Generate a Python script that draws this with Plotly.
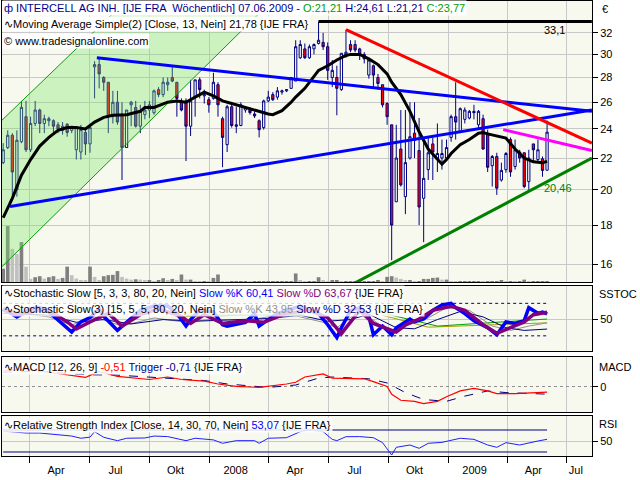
import math
import datetime as dt
import plotly.graph_objects as go

# ---------------- data ----------------
start = dt.datetime(2007, 2, 19)

opens = [21.7, 22.7, 23.55, 20.0, 23.1, 24.9, 22.55, 24.4, 25.4, 24.4,
         24.6, 24.6, 24.3, 23.9, 24.35, 23.9, 22.55, 22.4, 23.75, 22.95,
         28.9, 29.1, 28.0, 27.6, 24.9, 26.0, 25.1, 22.7, 25.8, 25.6,
         24.2, 25.05, 25.4, 25.2, 27.0, 26.6, 27.4, 28.0, 27.6, 26.0,
         26.1, 24.2, 26.4, 27.8, 26.5, 26.2, 26.3, 27.4, 24.75, 22.9,
         25.65, 24.3, 24.25, 25.4, 25.4, 25.1, 24.6, 24.1, 26.1, 26.6,
         26.4, 26.8, 26.9, 27.1, 27.7, 29.7, 30.5, 29.7, 30.5, 31.0,
         31.1, 30.7, 28.0, 28.0, 27.0, 29.9, 30.9, 30.9, 30.5, 30.0,
         28.2, 29.0, 28.0, 27.4, 25.9, 24.3, 19.3, 22.6, 19.6, 22.0,
         23.7, 22.5, 19.5, 21.25, 22.95, 21.9, 22.0, 22.0, 23.4, 24.9,
         23.8, 24.7, 24.8, 25.3, 24.3, 24.75, 23.7, 21.5, 22.1, 20.6,
         21.25, 23.25, 21.45, 22.4, 22.35, 20.5, 22.95, 21.9, 21.95, 21.21]
highs = [23.0, 23.9, 23.7, 23.9, 26.1, 26.1, 24.9, 26.1, 25.5, 25.05,
         24.9, 24.7, 24.5, 24.5, 24.4, 24.2, 24.1, 24.3, 23.95, 24.3,
         29.4, 29.7, 28.1, 27.6, 26.9, 26.9, 26.0, 25.4, 26.1, 26.1,
         25.8, 26.1, 26.1, 27.0, 27.2, 28.0, 28.0, 28.9, 27.6, 26.3,
         26.3, 27.8, 27.8, 28.0, 27.0, 26.4, 28.4, 27.6, 24.9, 25.8,
         25.8, 25.65, 26.0, 25.65, 25.6, 25.3, 24.7, 26.2, 26.9, 26.8,
         27.2, 27.0, 27.0, 28.0, 31.3, 31.3, 31.0, 30.9, 31.0, 33.1,
         32.0, 31.1, 29.5, 29.0, 30.1, 32.3, 31.3, 31.3, 30.6, 30.2,
         29.6, 29.1, 28.3, 27.4, 26.0, 24.3, 24.3, 25.4, 25.4, 26.0,
         26.0, 24.8, 23.4, 23.45, 23.4, 24.4, 23.25, 23.25, 25.05, 27.6,
         25.6, 25.6, 25.4, 25.8, 25.4, 25.05, 23.95, 22.2, 22.35, 21.7,
         22.4, 23.4, 23.25, 22.55, 22.35, 22.55, 22.95, 23.25, 22.1, 24.61]
lows = [21.6, 22.6, 19.7, 19.6, 23.0, 22.4, 22.4, 24.2, 23.7, 23.7,
        24.2, 23.6, 23.7, 23.6, 23.45, 23.7, 21.9, 21.9, 22.2, 22.35,
        26.3, 27.1, 26.9, 23.7, 24.4, 24.3, 20.6, 22.7, 24.2, 24.1,
        23.7, 24.7, 24.8, 25.05, 26.4, 26.4, 26.9, 27.6, 24.9, 25.3,
        21.8, 23.5, 24.9, 26.3, 25.9, 25.2, 26.2, 24.9, 21.4, 22.4,
        24.1, 23.7, 24.2, 25.2, 25.05, 24.8, 23.4, 23.95, 26.0, 26.1,
        26.2, 26.6, 26.8, 27.1, 27.7, 29.6, 29.6, 29.6, 30.0, 30.9,
        30.4, 27.8, 27.2, 25.0, 26.9, 29.7, 30.2, 30.2, 29.5, 29.2,
        27.9, 27.2, 27.0, 25.6, 24.3, 16.2, 19.3, 20.2, 18.6, 21.9,
        22.0, 18.0, 17.1, 20.6, 20.6, 21.1, 21.25, 21.9, 23.1, 23.25,
        23.7, 24.4, 24.7, 24.7, 23.95, 22.55, 21.1, 20.2, 19.7, 20.5,
        21.05, 20.8, 21.25, 21.7, 20.1, 20.0, 21.8, 21.7, 20.8, 21.21]
closes = [22.55, 23.55, 21.1, 23.2, 25.6, 22.55, 24.4, 25.4, 24.4, 24.75,
          24.75, 24.2, 24.0, 24.2, 23.75, 24.2, 24.1, 23.95, 22.95, 24.1,
          29.1, 28.3, 27.6, 24.9, 26.0, 24.5, 22.7, 25.4, 26.0, 24.2,
          25.3, 25.4, 25.8, 26.9, 26.6, 27.6, 27.6, 27.7, 26.3, 25.4,
          24.2, 26.1, 27.8, 27.0, 26.6, 25.8, 27.6, 25.8, 23.4, 25.65,
          24.25, 24.2, 25.8, 25.6, 25.2, 24.95, 23.95, 26.1, 26.4, 26.2,
          26.9, 26.9, 27.0, 28.0, 30.7, 30.9, 29.7, 30.7, 30.9, 31.3,
          30.7, 28.6, 28.6, 27.1, 30.1, 30.2, 30.4, 30.4, 30.0, 29.6,
          29.5, 28.2, 27.5, 25.8, 24.9, 18.0, 22.0, 20.3, 21.7, 23.45,
          23.2, 19.0, 20.7, 22.35, 22.4, 22.3, 22.3, 22.7, 24.9, 24.5,
          25.5, 25.4, 25.3, 25.2, 25.3, 22.6, 21.4, 22.1, 20.1, 21.2,
          22.3, 21.1, 22.55, 22.0, 20.2, 22.0, 22.55, 22.55, 21.2, 23.77]
volume = [390, 1640, 970, 820, 1170, 450, 90, 140, 170, 100,
          140, 170, 90, 120, 450, 200, 100, 50, 30, 450,
          150, 50, 170, 200, 210, 320, 150, 100, 70, 80,
          70, 40, 50, 20, 50, 110, 50, 90, 40, 220,
          70, 70, 20, 10, 20, 10, 120, 220, 20, 10,
          10, 10, 10, 20, 10, 10, 10, 10, 10, 10,
          10, 10, 10, 10, 250, 50, 10, 10, 10, 140,
          50, 20, 50, 50, 10, 10, 10, 10, 10, 10,
          10, 10, 50, 20, 150, 170, 130, 90, 30, 50,
          10, 10, 90, 90, 120, 130, 70, 70, 20, 10,
          10, 10, 10, 20, 20, 10, 10, 10, 10, 50,
          10, 20, 10, 10, 70, 10, 10, 10, 20, 20]

ma_weeks = [0, 2, 4, 6, 8, 10, 12, 14, 16, 18, 20, 22, 24, 27, 30, 31, 33, 36, 38, 40,
            42, 44, 46, 48, 50, 52, 54, 56, 58, 59, 61, 63, 64, 66, 68, 69, 71, 73, 75, 76,
            78, 80, 82, 84, 85, 87, 89, 91, 93, 95, 96, 97, 98, 100, 102, 104, 105, 106, 108, 110,
            112, 114, 116, 118, 119]
ma_vals = [18.4, 19.5, 20.9, 21.9, 22.8, 23.4, 23.9, 24.1, 24.1, 24.0, 24.5, 24.85, 25.0, 25.05, 25.3, 25.6, 25.6, 26.0, 26.1, 26.0,
           26.4, 26.8, 26.5, 26.1, 25.9, 25.7, 25.5, 25.25, 25.1, 25.05, 25.35, 26.0, 26.4, 27.1, 28.1, 28.6, 29.0, 29.5, 29.9, 30.0,
           30.0, 29.6, 29.1, 28.3, 27.6, 26.6, 25.3, 23.8, 22.6, 21.9, 21.6, 21.9, 22.3, 22.9, 23.25, 23.7, 23.75, 23.65, 23.5, 23.35,
           22.6, 22.0, 21.75, 21.7, 21.78]

# drawn trend lines: (week positions, prices)
trend_blue_upper = ([20.5, 128.8], [29.7, 25.3])
trend_blue_lower = ([1.5, 128.8], [19.03, 25.4])
trend_red = ([75.0, 128.8], [32.3, 23.0])
trend_magenta = ([109.4, 128.8], [23.95, 22.5])
trend_green = ([75.7, 128.8], [15.0, 22.0])
trend_high = ([69.0, 128.8], [33.1, 33.1])
channel_weeks = [-2.89, 31.66, 63.46, -2.89]
channel_prices = [23.8, 37.5, 37.5, 15.34]

# stochastic slow [5,3,3]
sk_weeks = [0, 3, 6, 8, 10, 13, 15, 17, 19, 21, 22, 25, 28, 30, 33, 36, 38, 40, 41, 43,
            46, 48, 49, 53, 55, 56, 58, 60, 62, 65, 69, 71, 73, 74, 76, 78, 80, 81, 83, 85,
            86, 89, 90, 92, 94, 96, 98, 99, 101, 103, 106, 108, 110, 112, 114, 115, 117, 118, 119]
sk_vals = [70, 55, 70, 72, 64, 40.5, 27, 45.7, 53.6, 70, 56, 30, 51, 67, 75, 75, 61.5, 38, 50, 67,
           64, 40.5, 38, 45, 61, 38, 50, 61, 67, 75, 61, 40.5, 17, 35, 67, 72, 56, 22, 38, 22,
           35, 51, 45.7, 51, 67, 77, 80, 72, 61, 48, 35, 22, 45.7, 43, 48, 72, 61.5, 64, 60.41]
sd_weeks = [0, 4, 8, 10, 14, 16, 19, 23, 26, 30, 34, 39, 41, 44, 48, 53, 57, 62, 67, 71,
            74, 76, 78, 81, 84, 86, 88, 91, 94, 98, 101, 105, 108, 111, 114, 116, 119]
sd_vals = [68, 60, 68, 67, 45.7, 32.6, 45.7, 61.5, 38, 59, 70, 56, 43, 59, 43, 48, 45, 61.5, 67, 53.6,
           24, 45.7, 67, 43, 32.6, 27, 40, 51, 67, 74.7, 67, 40.5, 24.7, 35, 45.7, 59, 63.67]
# stochastic slow(3) [15,5,5]
sk2_weeks = [0, 10, 15, 20, 26, 33, 40, 46, 53, 62, 70, 73, 78, 85, 88, 93, 97, 102, 107, 111, 115, 119]
sk2_vals = [65, 55, 40, 55, 38, 53, 45, 51, 48, 61, 45, 35, 67, 25, 38, 53, 72, 67, 38, 30, 38, 43.95]
sd2_weeks = [0, 10, 16, 22, 28, 35, 42, 50, 58, 65, 71, 76, 80, 86, 90, 95, 100, 105, 110, 114, 119]
sd2_vals = [62, 58, 45, 50, 42, 50, 47, 49, 52, 58, 47, 50, 60, 35, 33, 50, 65, 55, 35, 30, 32.53]
stoch_green_weeks = [[40, 66], [84, 95, 119]]
stoch_green_vals = [[58, 58.5], [60, 38, 51]]
stoch_olive_weeks = [[38, 52], [83, 93, 119]]
stoch_olive_vals = [[55, 58], [58, 36, 44]]

# MACD [12,26,9]
macd_weeks = [0, 5, 10, 15, 18, 19, 21, 25, 29, 32, 36, 39, 44, 47, 51, 56, 62, 64, 66, 70,
              72, 76, 79, 81, 84, 85, 87, 90, 92, 95, 97, 100, 103, 106, 108, 112, 116, 119]
macd_vals = [1.5, 1.7, 1.4, 1.1, 0.9, 1.1, 1.47, 1.0, 0.84, 0.70, 0.94, 0.70, 0.54, 0.27, 0.04, -0.06, 0.27, 0.44, 0.94, 1.24,
             0.84, 0.84, 0.77, 0.50, 0.04, -0.73, -1.30, -1.40, -1.63, -1.40, -0.96, -0.40, -0.16, -0.40, -0.66, -0.66, -0.60, -0.51]
trig_weeks = [0, 8, 15, 20, 24, 29, 36, 44, 49, 55, 58, 64, 69, 72, 80, 84, 88, 92, 97, 101, 106, 110, 119]
trig_vals = [1.4, 1.5, 1.25, 1.15, 1.15, 1.0, 0.84, 0.6, 0.27, 0.04, -0.06, 0.17, 0.84, 0.94, 0.77, 0.37, -0.56, -1.23, -1.40, -0.90, -0.40, -0.56, -0.71]

# RSI [14]
rsi_weeks = [0, 5, 8, 12, 15, 17, 19, 20, 22, 25, 27, 31, 33, 36, 40, 42, 46, 48, 51, 55,
             56, 58, 62, 65, 67, 70, 72, 73, 75, 78, 81, 83, 85, 86, 89, 91, 93, 96, 98, 100,
             103, 106, 108, 110, 113, 115, 117, 119]
rsi_vals = [68, 64.5, 64.5, 62, 59, 55, 57, 67, 56.7, 50.6, 55, 55.5, 59, 58, 50.6, 55, 52, 45.8, 50.6, 50.6,
            45.8, 55, 56, 67, 70, 67, 53, 50.6, 57.8, 58, 56, 47, 24.5, 38.5, 42.7, 36.7, 45.8, 47.5, 51.8, 55,
            53, 42.7, 38.5, 47, 42.7, 47, 50, 53.07]

price_ticks = [16, 18, 20, 22, 24, 26, 28, 30, 32]
quarter_starts = ["2007-04-01", "2007-07-01", "2007-10-01", "2008-01-01", "2008-04-01",
                  "2008-07-01", "2008-10-01", "2009-01-01", "2009-04-01", "2009-07-01"]
quarter_labels = ["Apr", "Jul", "Okt", "2008", "Apr", "Jul", "Okt", "2009", "Apr", "Jul"]


# ---------------- helpers ----------------
def wdate(w):
    return start + dt.timedelta(days=7.0 * w)


def wdates(ws):
    return [wdate(w) for w in ws]


dates = wdates(range(len(closes)))
x_range = [dt.datetime(2007, 2, 17, 5), dt.datetime(2009, 8, 8, 19)]
label_pos = []
for k, q in enumerate(quarter_starts):
    d0 = dt.datetime.strptime(q, "%Y-%m-%d")
    off = 14 if k == len(quarter_starts) - 1 else 40
    label_pos.append(d0 + dt.timedelta(days=off))

NAVY = "#000080"
GRID = "#c8c8c8"
FONT = "Liberation Sans"

fig = go.Figure()

# volume (base axis of the main panel)
vol_colors = []
for i, v in enumerate(volume):
    if i == 0 or v >= volume[i - 1]:
        vol_colors.append("#808080")
    else:
        vol_colors.append("#c0c0c0")
fig.add_trace(go.Bar(x=dates, y=volume, marker=dict(color=vol_colors, line=dict(width=0)),
                     width=5.6 * 86400000, xaxis="x", yaxis="y", hoverinfo="skip"))

# green channel
fig.add_trace(go.Scatter(x=wdates(channel_weeks), y=channel_prices, fill="toself",
                         fillcolor="rgba(120,230,100,0.34)", mode="lines",
                         line=dict(color="#119911", width=1), xaxis="x", yaxis="y2"))

# candles
fig.add_trace(go.Candlestick(x=dates, open=opens, high=highs, low=lows, close=closes,
                             increasing=dict(line=dict(color=NAVY, width=1), fillcolor="white"),
                             decreasing=dict(line=dict(color=NAVY, width=1), fillcolor="#ff0000"),
                             whiskerwidth=0, xaxis="x", yaxis="y2"))

# moving average
fig.add_trace(go.Scatter(x=wdates(ma_weeks), y=ma_vals, mode="lines",
                         line=dict(color="black", width=3), xaxis="x", yaxis="y2"))

for (ws, ps), col in [(trend_blue_upper, "#0000ff"), (trend_blue_lower, "#0000ff"),
                      (trend_red, "#ff0000"), (trend_magenta, "#ff00ff"),
                      (trend_green, "#008000"), (trend_high, "black")]:
    fig.add_trace(go.Scatter(x=wdates(ws), y=ps, mode="lines", line=dict(color=col, width=3),
                             xaxis="x", yaxis="y2"))

# stochastic panel
for lvl in (80, 20):
    fig.add_trace(go.Scatter(x=[dates[0], dates[-1]], y=[lvl, lvl], mode="lines",
                             line=dict(color=NAVY, width=1, dash="dot"), xaxis="x2", yaxis="y3"))
for ws, vs in zip(stoch_olive_weeks, stoch_olive_vals):
    fig.add_trace(go.Scatter(x=wdates(ws), y=vs, mode="lines", line=dict(color="#a0a000", width=1),
                             xaxis="x2", yaxis="y3"))
for ws, vs in zip(stoch_green_weeks, stoch_green_vals):
    fig.add_trace(go.Scatter(x=wdates(ws), y=vs, mode="lines", line=dict(color="#00a000", width=1),
                             xaxis="x2", yaxis="y3"))
fig.add_trace(go.Scatter(x=wdates(sk2_weeks), y=sk2_vals, mode="lines", line=dict(color="#909090", width=1),
                         xaxis="x2", yaxis="y3"))
fig.add_trace(go.Scatter(x=wdates(sd2_weeks), y=sd2_vals, mode="lines", line=dict(color=NAVY, width=1),
                         xaxis="x2", yaxis="y3"))
fig.add_trace(go.Scatter(x=wdates(sk_weeks), y=sk_vals, mode="lines", line=dict(color="#0000ff", width=3.5),
                         xaxis="x2", yaxis="y3"))
fig.add_trace(go.Scatter(x=wdates(sd_weeks), y=sd_vals, mode="lines", line=dict(color="#800080", width=3.5),
                         xaxis="x2", yaxis="y3"))

# MACD panel
fig.add_trace(go.Scatter(x=wdates(trig_weeks), y=trig_vals, mode="lines",
                         line=dict(color=NAVY, width=1, dash="dash"), xaxis="x3", yaxis="y4"))
fig.add_trace(go.Scatter(x=wdates(macd_weeks), y=macd_vals, mode="lines",
                         line=dict(color="#ff0000", width=1.2), xaxis="x3", yaxis="y4"))

# RSI panel
for lvl in (70, 30):
    fig.add_trace(go.Scatter(x=[dates[0], dates[-1]], y=[lvl, lvl], mode="lines",
                             line=dict(color=NAVY, width=1), xaxis="x4", yaxis="y5"))
fig.add_trace(go.Scatter(x=wdates(rsi_weeks), y=rsi_vals, mode="lines",
                         line=dict(color="#2020ff", width=1), xaxis="x4", yaxis="y5"))

# ---------------- layout ----------------
H_TOP, H_BOT = 1, 456
def yfrac(py):
    return (H_BOT - py) / (H_BOT - H_TOP)

def xfrac(px):
    return (px - 2) / 590.0


def xax(anchor, bottom=False):
    d = dict(type="date", range=x_range, anchor=anchor, domain=[0, 1],
             showgrid=False, showline=True, mirror=True, linecolor="black", linewidth=1,
             rangeslider=dict(visible=False), fixedrange=True,
             minor=dict(tickmode="array", tickvals=quarter_starts, showgrid=True,
                        gridcolor=GRID, gridwidth=1,
                        ticks="outside" if bottom else "", ticklen=6, tickcolor="black"))
    if bottom:
        d.update(tickmode="array", tickvals=label_pos, ticktext=quarter_labels, ticks="",
                 showticklabels=True, ticklabelstandoff=4,
                 tickfont=dict(family=FONT, size=11, color="black"))
    else:
        d.update(showticklabels=False, ticks="")
    return d


def yax(dom, anchor, rng, tickvals, ticktext, **kw):
    d = dict(domain=dom, anchor=anchor, range=rng, side="right", tickmode="array",
             tickvals=tickvals, ticktext=ticktext, ticks="outside", ticklen=5, tickcolor="black",
             showgrid=True, gridcolor=GRID, gridwidth=1, showline=True, mirror=True,
             linecolor="black", zeroline=False, fixedrange=True,
             tickfont=dict(family=FONT, size=11, color="black"))
    d.update(kw)
    return d


main_dom = [yfrac(282), 1.0]
layout = dict(
    width=640, height=480, margin=dict(l=2, r=48, t=H_TOP, b=480 - H_BOT),
    paper_bgcolor="white", plot_bgcolor="#f7f9ef", showlegend=False,
    font=dict(family=FONT, size=11, color="black"),
    xaxis=xax("y"), xaxis2=xax("y3"), xaxis3=xax("y4"), xaxis4=xax("y5", bottom=True),
    yaxis=dict(domain=main_dom, anchor="x", range=[0, 8230], showticklabels=False, ticks="",
               showgrid=False, zeroline=False, showline=True, mirror=True, linecolor="black",
               fixedrange=True),
    yaxis2=dict(domain=main_dom, anchor="x", overlaying="y", side="right", type="log",
                range=[math.log10(15.18), math.log10(35.2)], tickmode="array",
                tickvals=price_ticks, ticktext=[str(t) for t in price_ticks],
                ticks="outside", ticklen=5, tickcolor="black", showgrid=True, gridcolor=GRID,
                zeroline=False, showline=False, fixedrange=True,
                tickfont=dict(family=FONT, size=11, color="black")),
    yaxis3=yax([yfrac(351), yfrac(286)], "x2", [-8, 112], [50], ["50"]),
    yaxis4=yax([yfrac(412), yfrac(357)], "x3", [-2.43, 2.87], [0], ["0"], griddash="dot",
               gridcolor="#909090"),
    yaxis5=yax([0, yfrac(416)], "x4", [22.7, 95.5], [50], ["50"]),
)
fig.update_layout(**layout)

ICON = "<span style='color:black'>∿</span>"
ann = []
def box(px, py, text, bg="rgba(255,255,255,0.92)"):
    ann.append(dict(xref="paper", yref="paper", x=xfrac(px), y=yfrac(py), xanchor="left",
                    yanchor="middle", text=text, showarrow=False, bgcolor=bg, borderpad=1,
                    font=dict(family=FONT, size=11, color="black")))

box(2, 8, "<span style='color:#00008b'>ф INTERCELL AG INH. [IJE FRA  Wöchentlich] 07.06.2009 - </span>"
           "<span style='color:#00a000'>O:21,21</span>"
           "<span style='color:#00008b'> H:24,61 L:21,21 </span>"
           "<span style='color:#00a000'>C:23,77</span>", bg="white")
box(2, 24, ICON + "Moving Average Simple(2) [Close, 13, Nein] 21,78 {IJE FRA}", bg="white")
box(2, 41, "© www.tradesignalonline.com", bg="white")
box(2, 293, ICON + "Stochastic Slow [5, 3, 3, 80, 20, Nein] <span style='color:#0000ff'>Slow %K 60,41</span> "
            "<span style='color:#800080'>Slow %D 63,67</span> {IJE FRA}", bg="rgba(255,255,255,0.8)")
box(2, 309, ICON + "Stochastic Slow(3) [15, 5, 5, 80, 20, Nein] <span style='color:#909090'>Slow %K 43,95</span> "
            "<span style='color:#000080'>Slow %D 32,53</span> {IJE FRA}", bg="rgba(255,255,255,0.8)")
box(2, 367, ICON + "MACD [12, 26, 9] <span style='color:#ff0000'>-0,51</span> "
            "<span style='color:#000080'>Trigger -0,71</span> {IJE FRA}", bg="rgba(255,255,255,0.85)")
box(2, 425, ICON + "Relative Strength Index [Close, 14, 30, 70, Nein] "
            "<span style='color:#0000ff'>53,07</span> {IJE FRA}", bg="rgba(255,255,255,0.85)")

for px, py, t in [(600, 9, "€"), (597, 294, "SSTOC"), (597, 367, "MACD"), (597, 424, "RSI")]:
    ann.append(dict(xref="paper", yref="paper", x=xfrac(px), y=yfrac(py), xanchor="left",
                    yanchor="middle", text=t, showarrow=False,
                    font=dict(family=FONT, size=11, color="black")))

ann.append(dict(xref="x", yref="y2", x=wdate(120.7), y=math.log10(32.25), text="33,1",
                showarrow=False, font=dict(family=FONT, size=11, color="black")))
ann.append(dict(xref="x", yref="y2", x=wdate(121.4), y=math.log10(20.1), text="20,46",
                showarrow=False, font=dict(family=FONT, size=11, color="#008000")))
fig.update_layout(annotations=ann)

fig.write_html("out.html", config={"displayModeBar": False},
               post_script="document.body.style.margin='0px';document.body.style.overflow='hidden';")
